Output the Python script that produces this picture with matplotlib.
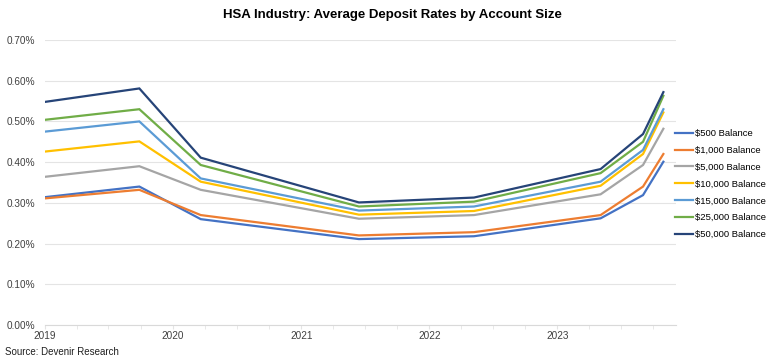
import numpy as np
import pandas as pd
import matplotlib
matplotlib.use("Agg")
import matplotlib.pyplot as plt
import matplotlib.dates as mdates
from matplotlib.ticker import FuncFormatter

plt.rcParams['font.family'] = ['Liberation Sans', 'DejaVu Sans']

# survey dates
dates = pd.to_datetime(["2019-01-01", "2019-09-27", "2020-03-20", "2021-06-14",
                        "2022-05-08", "2023-05-04", "2023-09-02", "2023-10-30"])

labels = ["$500 Balance", "$1,000 Balance", "$5,000 Balance", "$10,000 Balance",
          "$15,000 Balance", "$25,000 Balance", "$50,000 Balance"]
colors = ["#4472C4", "#ED7D31", "#A5A5A5", "#FFC000", "#5B9BD5", "#70AD47", "#264478"]

# average deposit rate, percent
rate_500 = [0.314, 0.340, 0.260, 0.211, 0.218, 0.262, 0.319, 0.401]
rate_1k = [0.311, 0.332, 0.270, 0.220, 0.228, 0.270, 0.340, 0.420]
rate_5k = [0.364, 0.390, 0.332, 0.261, 0.270, 0.321, 0.393, 0.482]
rate_10k = [0.426, 0.451, 0.352, 0.271, 0.280, 0.342, 0.420, 0.522]
rate_15k = [0.475, 0.500, 0.360, 0.281, 0.291, 0.352, 0.430, 0.530]
rate_25k = [0.504, 0.530, 0.393, 0.291, 0.303, 0.373, 0.450, 0.563]
rate_50k = [0.548, 0.581, 0.411, 0.301, 0.313, 0.383, 0.469, 0.572]
series = [rate_500, rate_1k, rate_5k, rate_10k, rate_15k, rate_25k, rate_50k]

fig = plt.figure(figsize=(7.68, 3.58), dpi=100)
ax = fig.add_axes([45 / 768, 1 - 325 / 358, (676 - 45) / 768, (325 - 40) / 358])

for vals, lab, col in zip(series, labels, colors):
    ax.plot(dates, vals, color=col, lw=1.6, label=lab, solid_joinstyle='miter')

ax.set_ylim(0, 0.70)
ax.set_yticks(np.arange(0, 0.71, 0.1))
ax.yaxis.set_major_formatter(FuncFormatter(lambda v, p: f"{v:.2f}%"))
ax.grid(axis='y', color='#E4E4E4', lw=0.8)
ax.set_axisbelow(True)

ax.set_xlim(pd.Timestamp("2019-01-01"), pd.Timestamp("2023-12-05"))
ax.xaxis.set_major_locator(mdates.YearLocator())
ax.xaxis.set_major_formatter(mdates.DateFormatter("%Y"))
ax.xaxis.set_minor_locator(mdates.MonthLocator(bymonth=[4, 7, 10]))

for s in ['top', 'right', 'left']:
    ax.spines[s].set_visible(False)
ax.spines['bottom'].set_color('#D9D9D9')
ax.tick_params(axis='y', length=0, labelsize=7.2, colors='#404040', pad=7)
ax.tick_params(axis='x', which='both', length=3, color='#E4E4E4', labelsize=7.2,
               labelcolor='#404040', pad=1)

fig.text(392 / 768, 1 - 15 / 358, "HSA Industry: Average Deposit Rates by Account Size",
         ha='center', va='center', fontsize=9.5, fontweight='bold')
fig.text(5 / 768, 1 - 352 / 358, "Source: Devenir Research", ha='left', va='center',
         fontsize=7, color='#202020')

ax.legend(loc='upper left', bbox_to_anchor=(675 / 768, 1 - 129 / 358),
          bbox_transform=fig.transFigure, frameon=False, fontsize=6.8,
          handlelength=1.9, handletextpad=0.2, labelspacing=0.83, borderpad=0,
          borderaxespad=0)

fig.savefig("out.png", dpi=100)
